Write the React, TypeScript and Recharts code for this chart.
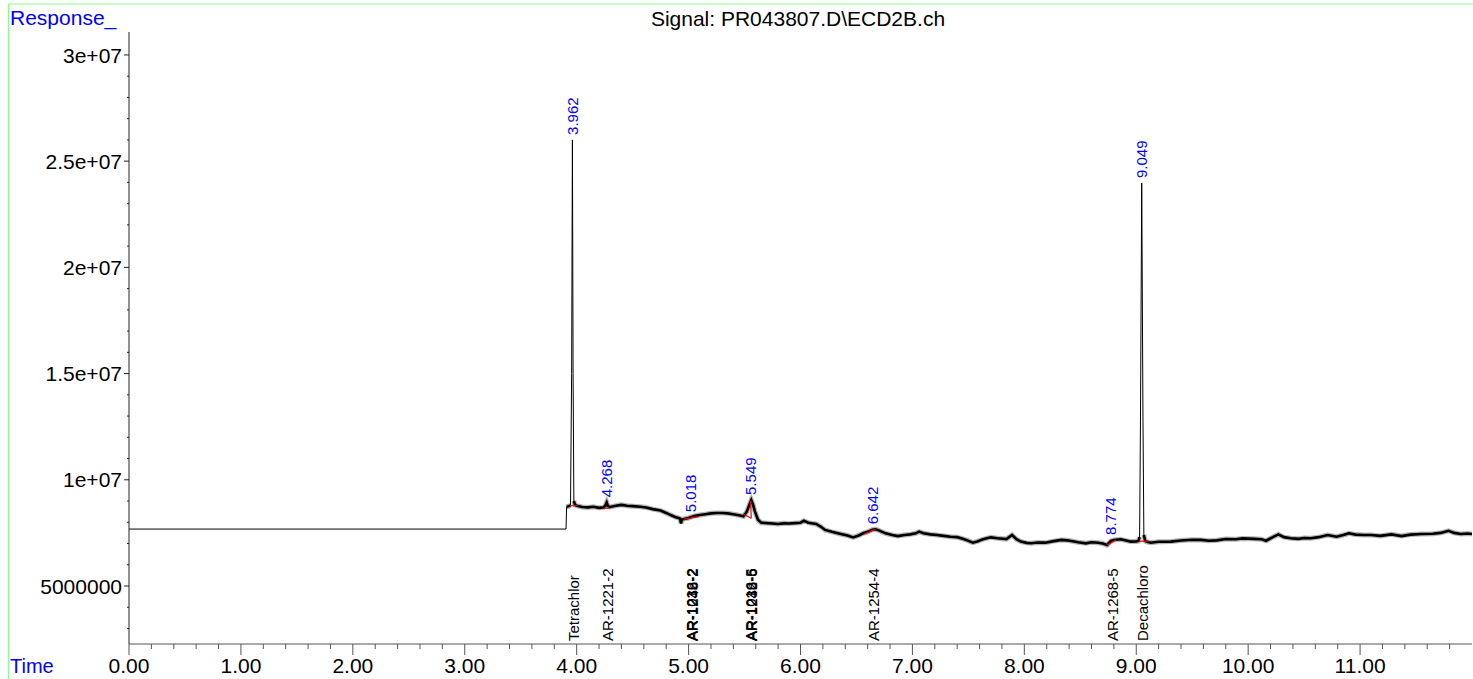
import React from 'react';
import { LineChart, Line, XAxis, YAxis, ReferenceDot, ReferenceLine } from 'recharts';

// Retention time (min)
const times = [
  0, 3.905, 3.91, 3.93, 3.945, 3.955, 3.962, 3.968, 3.975, 3.985,
  4.0, 4.05, 4.1, 4.15, 4.2, 4.24, 4.255, 4.268, 4.28, 4.3,
  4.35, 4.4, 4.45, 4.5, 4.57, 4.62, 4.68, 4.75, 4.8, 4.84,
  4.88, 4.91, 4.925, 4.932, 4.94, 4.96, 5.0, 5.018, 5.05, 5.1,
  5.15, 5.2, 5.25, 5.3, 5.35, 5.4, 5.45, 5.49, 5.52, 5.545,
  5.56, 5.575, 5.59, 5.62, 5.65, 5.7, 5.75, 5.8, 5.85, 5.9,
  5.95, 6.0, 6.03, 6.07, 6.1, 6.14, 6.18, 6.22, 6.28, 6.36,
  6.42, 6.47, 6.52, 6.56, 6.6, 6.642, 6.67, 6.7, 6.76, 6.82,
  6.87, 6.93, 6.98, 7.03, 7.06, 7.1, 7.16, 7.22, 7.28, 7.34,
  7.4, 7.45, 7.48, 7.54, 7.58, 7.63, 7.7, 7.76, 7.84, 7.89,
  7.93, 7.97, 8.02, 8.06, 8.12, 8.19, 8.25, 8.33, 8.38, 8.42,
  8.48, 8.55, 8.6, 8.66, 8.7, 8.74, 8.774, 8.8, 8.86, 8.9,
  8.95, 9.0, 9.02, 9.03, 9.038, 9.049, 9.06, 9.068, 9.08, 9.09,
  9.13, 9.2, 9.31, 9.4, 9.5, 9.58, 9.65, 9.72, 9.8, 9.89,
  9.95, 10.05, 10.12, 10.16, 10.22, 10.27, 10.32, 10.38, 10.45, 10.5,
  10.56, 10.63, 10.71, 10.79, 10.85, 10.9, 10.96, 11.03, 11.1, 11.18,
  11.28, 11.37, 11.45, 11.55, 11.65, 11.72, 11.79, 11.84, 11.9, 11.96,
  12.0,
];

// Response (millions)
const response = [
  7.68, 7.68, 8.73, 8.76, 8.8, 15.0, 26.0, 15.0, 9.0, 8.82,
  8.78, 8.72, 8.7, 8.73, 8.68, 8.7, 8.78, 8.94, 8.76, 8.72,
  8.78, 8.82, 8.78, 8.76, 8.73, 8.7, 8.62, 8.55, 8.44, 8.34,
  8.25, 8.2, 8.17, 7.95, 8.12, 8.16, 8.2, 8.24, 8.3, 8.34,
  8.38, 8.42, 8.44, 8.44, 8.42, 8.38, 8.33, 8.28, 8.5, 8.85,
  9.05, 8.85, 8.55, 8.12, 7.98, 7.96, 7.94, 7.92, 7.95, 7.94,
  7.96, 7.98, 8.07, 7.98, 7.95, 7.92, 7.8, 7.64, 7.55, 7.45,
  7.38, 7.29, 7.38, 7.48, 7.55, 7.65, 7.67, 7.62, 7.48, 7.4,
  7.35, 7.4, 7.43, 7.48, 7.56, 7.48, 7.43, 7.4, 7.36, 7.32,
  7.3, 7.22, 7.17, 7.04, 7.1, 7.2, 7.29, 7.25, 7.21, 7.4,
  7.2, 7.09, 7.03, 7.01, 7.05, 7.04, 7.1, 7.17, 7.15, 7.12,
  7.06, 7.01, 7.06, 7.04, 7.0, 6.93, 7.12, 7.17, 7.2, 7.15,
  7.09, 7.1, 7.12, 7.3, 13.0, 23.97, 13.0, 7.4, 7.12, 7.09,
  7.04, 7.08, 7.09, 7.14, 7.18, 7.17, 7.13, 7.15, 7.21, 7.2,
  7.24, 7.22, 7.2, 7.13, 7.3, 7.43, 7.3, 7.25, 7.22, 7.26,
  7.25, 7.3, 7.4, 7.32, 7.4, 7.48, 7.42, 7.4, 7.4, 7.36,
  7.43, 7.35, 7.42, 7.45, 7.46, 7.5, 7.6, 7.5, 7.45, 7.47,
  7.45,
];

// Integrated peaks: retention time label and apex height (millions)
const peakTimes = [3.962, 4.268, 5.018, 5.549, 6.642, 8.774, 9.049];
const peakLabels = ['3.962', '4.268', '5.018', '5.549', '6.642', '8.774', '9.049'];
const peakHeights = [26.0, 8.94, 8.24, 9.05, 7.67, 7.17, 23.97];

// Compound names at expected retention times
const compoundTimes = [3.97, 4.275, 5.025, 5.03, 5.035, 5.555, 5.56, 5.565, 6.655, 8.79, 9.06];
const compoundNames = [
  'Tetrachlor', 'AR-1221-2', 'AR-1016-2', 'AR-1232-2', 'AR-1248-2',
  'AR-1016-5', 'AR-1232-5', 'AR-1248-6', 'AR-1254-4', 'AR-1268-5', 'Decachloro',
];

// Integration baselines: [t1, v1, t2, v2]
const baselineSegments = [
  [3.944, 8.78, 4.004, 8.78],
  [4.24, 8.66, 4.3, 8.66],
  [4.957, 8.15, 5.092, 8.26],
  [5.49, 8.38, 5.56, 8.19],
  [5.555, 9.0, 5.56, 8.19],
  [6.57, 7.45, 6.67, 7.67],
  [8.74, 6.93, 8.82, 7.17],
  [9.02, 7.11, 9.11, 7.11],
];

const xTicks = Array.from({ length: 60 }, (_, i) => +(i * 0.2).toFixed(1));
const yTicks = Array.from({ length: 28 }, (_, i) => i + 3);
const yTickLabels: Record<number, string> = {
  5: '5000000', 10: '1e+07', 15: '1.5e+07', 20: '2e+07', 25: '2.5e+07', 30: '3e+07',
};

const rows = times.map((t, i) => ({
  t,
  v: response[i],
  band: t >= 3.91 && response[i] < 10 ? response[i] : null,
}));

const XTick = (props: any) => {
  const { x, y, payload } = props;
  const v = payload.value;
  const major = Math.abs(v - Math.round(v)) < 1e-6;
  return (
    <g>
      <line x1={x} x2={x} y1={y} y2={y + (major ? 11 : 5)} stroke="#555" />
      {major && (
        <text x={x} y={y + 29} textAnchor="middle" fontSize={21} fill="#000">
          {v.toFixed(2)}
        </text>
      )}
    </g>
  );
};

const YTick = (props: any) => {
  const { x, y, payload } = props;
  const v = payload.value;
  const label = yTickLabels[v];
  return (
    <g>
      <line x1={x - (label ? 5 : 2)} x2={x} y1={y} y2={y} stroke="#222" />
      {label && (
        <text x={x - 7} y={y} dy="0.36em" textAnchor="end" fontSize={21} fill="#000">
          {label}
        </text>
      )}
    </g>
  );
};

const peakShape = (text: string) => (p: any) => (
  <text
    transform={`translate(${p.cx},${p.cy - 5}) rotate(-90)`}
    fill="#0000ff"
    fontSize={15}
    textAnchor="start"
    dominantBaseline="central"
  >
    {text}
  </text>
);

const compoundShape = (text: string) => (p: any) => (
  <text
    transform={`translate(${p.cx},${p.cy - 3}) rotate(-90)`}
    fill="#000"
    fontSize={15}
    textAnchor="start"
    dominantBaseline="central"
  >
    {text}
  </text>
);

const Y_MIN = 2.27;
const Y_MAX = 31.08;

export default function App() {
  return (
    <div
      style={{
        position: 'absolute',
        left: 0,
        top: 0,
        width: 1473,
        height: 679,
        background: '#fff',
        fontFamily: '"Liberation Sans", Arial, sans-serif',
        overflow: 'hidden',
      }}
    >
      <LineChart
        width={1473}
        height={679}
        data={rows}
        margin={{ top: 32, right: 1, bottom: 0, left: 0 }}
      >
        <XAxis
          dataKey="t"
          type="number"
          domain={[0, 12]}
          ticks={xTicks}
          interval={0}
          tick={<XTick />}
          tickLine={false}
          tickSize={0}
          tickMargin={0}
          axisLine={{ stroke: '#555' }}
          height={35}
          allowDataOverflow
        />
        <YAxis
          type="number"
          domain={[Y_MIN, Y_MAX]}
          ticks={yTicks}
          interval={0}
          tick={<YTick />}
          tickLine={false}
          tickSize={0}
          tickMargin={0}
          axisLine={{ stroke: '#222' }}
          width={129}
          allowDataOverflow
        />
        <Line
          dataKey="band"
          type="linear"
          stroke="#b4b4b4"
          strokeWidth={5}
          dot={false}
          isAnimationActive={false}
          connectNulls={false}
        />
        <Line
          dataKey="band"
          type="linear"
          stroke="#000"
          strokeWidth={2.6}
          dot={false}
          isAnimationActive={false}
          connectNulls={false}
        />
        <Line
          dataKey="v"
          type="linear"
          stroke="#000"
          strokeWidth={1}
          dot={false}
          isAnimationActive={false}
        />
        {baselineSegments.map((s, i) => (
          <ReferenceLine
            key={'b' + i}
            segment={[{ x: s[0], y: s[1] }, { x: s[2], y: s[3] }]}
            stroke="#ff0000"
            strokeWidth={1.2}
            ifOverflow="visible"
          />
        ))}
        {peakTimes.map((t, i) => (
          <ReferenceDot
            key={'p' + i}
            x={t}
            y={peakHeights[i]}
            r={1}
            ifOverflow="visible"
            shape={peakShape(peakLabels[i])}
          />
        ))}
        {compoundTimes.map((t, i) => (
          <ReferenceDot
            key={'c' + i}
            x={t}
            y={Y_MIN}
            r={1}
            ifOverflow="visible"
            shape={compoundShape(compoundNames[i])}
          />
        ))}
      </LineChart>
      <svg
        width={1473}
        height={679}
        style={{ position: 'absolute', left: 0, top: 0, pointerEvents: 'none' }}
      >
        <line x1={8.5} y1={4} x2={1473} y2={4} stroke="#88ff88" strokeWidth={1} />
        <line x1={8.5} y1={4} x2={8.5} y2={679} stroke="#88ff88" strokeWidth={1} />
        <text x={10} y={25} fontSize={21} fill="#0000ff">Response_</text>
        <text x={798} y={26} fontSize={21} fill="#000" textAnchor="middle">
          Signal: PR043807.D\ECD2B.ch
        </text>
        <text x={10} y={673} fontSize={20} fill="#0000ff">Time</text>
      </svg>
    </div>
  );
}
